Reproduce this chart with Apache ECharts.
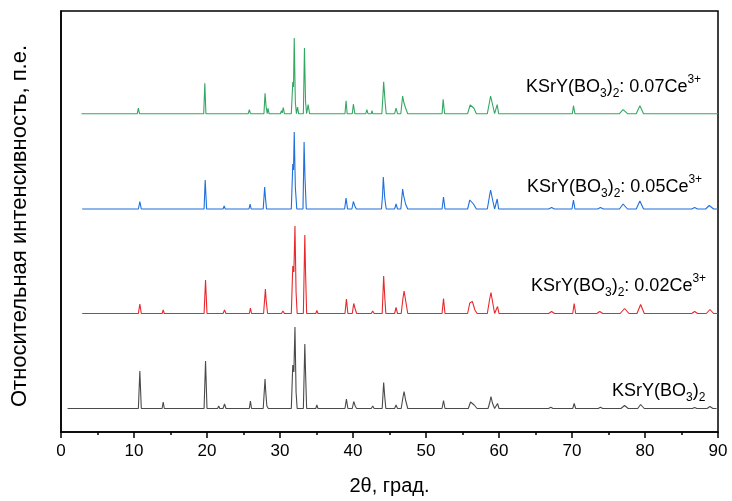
<!DOCTYPE html>
<html>
<head>
<meta charset="utf-8">
<script src="https://cdn.jsdelivr.net/npm/echarts@6/dist/echarts.min.js"></script>
<style>html,body{margin:0;padding:0;background:#fff}#c{width:732px;height:501px}</style>
</head>
<body>
<div id="c"></div>
<script>
// x tick labels
const xTicks = [0, 10, 20, 30, 40, 50, 60, 70, 80, 90];
const xTitle = '2θ, град.';
const yTitle = 'Относительная интенсивность, п.е.';
const seriesNames = ['KSrY(BO3)2', 'KSrY(BO3)2: 0.02Ce3+', 'KSrY(BO3)2: 0.05Ce3+', 'KSrY(BO3)2: 0.07Ce3+'];
const seriesLabels = [
  'KSrY(BO{sub|3}){sub|2}',
  'KSrY(BO{sub|3}){sub|2}: 0.02Ce{sup|3+}',
  'KSrY(BO{sub|3}){sub|2}: 0.05Ce{sup|3+}',
  'KSrY(BO{sub|3}){sub|2}: 0.07Ce{sup|3+}'
];

// [2θ, intensity] (arbitrary units, patterns already vertically offset)
const undoped = [
  [0.9,23.5],[10.6,23.5],[10.8,61],[11.0,23.5],[13.85,23.5],[14.0,30],[14.15,23.5],
  [15.2,23.5],[15.3,25],[15.4,23.5],[19.6,23.5],[19.8,71],[20.0,23.5],
  [21.45,23.5],[21.6,26],[21.75,23.5],[22.2,23.5],[22.4,28],[22.6,23.5],
  [25.8,23.5],[25.95,31],[26.1,23.5],[27.7,23.5],[27.95,53],[28.05,40],[28.2,26],[28.4,23.5],
  [30.8,23.5],[31.0,25],[31.2,23.5],[31.55,23.5],[31.75,67],[31.9,60],[32.05,105],[32.2,40],[32.35,23.5],
  [33.2,23.5],[33.4,88],[33.5,60],[33.65,23.5],[34.9,23.5],[35.05,27],[35.2,23.5],
  [38.9,23.5],[39.1,33],[39.3,23.5],[39.9,23.5],[40.1,30.5],[40.3,26],[40.5,23.5],
  [42.5,23.5],[42.7,26],[42.9,23.5],[44.0,23.5],[44.2,49.5],[44.35,35],[44.5,23.5],
  [45.7,23.5],[45.9,27],[46.1,23.5],[46.6,23.5],[46.85,35],[47.0,40.5],[47.2,32],[47.5,23.5],
  [52.2,23.5],[52.4,31.5],[52.6,23.5],[55.8,23.5],[56.1,30],[56.3,31.5],[56.6,27],[57.0,23.5],
  [58.5,23.5],[58.75,30],[58.9,35.5],[59.1,29],[59.4,23.5],[59.65,23.5],[59.8,28.5],[60.0,23.5],
  [66.8,23.5],[67.1,24.8],[67.4,23.5],[70.1,23.5],[70.3,28.5],[70.5,23.5],
  [73.6,23.5],[73.9,24.8],[74.2,23.5],[76.7,23.5],[77.2,26.5],[77.7,23.5],
  [79.0,23.5],[79.4,27.5],[79.9,23.5],[86.5,23.5],[86.8,24.5],[87.1,23.5],
  [88.5,23.5],[88.9,25.5],[89.3,23.5],[89.8,23.5]
];
const ce002 = [
  [2.9,118.5],[10.6,118.5],[10.8,128],[11.0,118.5],[13.85,118.5],[14.0,122],[14.15,118.5],
  [19.6,118.5],[19.8,152],[20.0,118.5],[21.45,118.5],[21.6,120.5],[21.75,118.5],
  [22.2,118.5],[22.4,122],[22.6,118.5],[25.8,118.5],[25.95,124],[26.1,118.5],
  [27.75,118.5],[28.0,143],[28.1,132],[28.3,118.5],[30.2,118.5],[30.4,121],[30.6,118.5],
  [31.55,118.5],[31.75,166],[31.9,160],[32.05,206],[32.2,140],[32.35,118.5],
  [33.2,118.5],[33.4,197],[33.5,160],[33.65,118.5],[34.9,118.5],[35.05,121.5],[35.2,118.5],
  [38.9,118.5],[39.1,133],[39.3,118.5],[39.9,118.5],[40.1,128.5],[40.3,123],[40.5,118.5],
  [42.5,118.5],[42.7,121],[42.9,118.5],[44.0,118.5],[44.2,156],[44.35,135],[44.5,118.5],
  [45.7,118.5],[45.9,124.5],[46.1,118.5],[46.6,118.5],[46.85,134],[47.0,141],[47.2,132],[47.5,118.5],
  [52.2,118.5],[52.4,133.5],[52.6,118.5],[55.7,118.5],[56.0,129],[56.15,127],[56.35,130.5],[56.7,122],[57.0,118.5],
  [58.4,118.5],[58.7,132],[58.9,139.5],[59.1,131],[59.4,118.5],[59.65,118.5],[59.8,125.5],[60.0,118.5],
  [66.8,118.5],[67.2,120.5],[67.6,118.5],[70.1,118.5],[70.3,128.5],[70.5,118.5],
  [73.4,118.5],[73.8,120.5],[74.2,118.5],[76.6,118.5],[77.2,123.5],[77.8,118.5],
  [78.9,118.5],[79.4,127.5],[79.9,118.5],[86.4,118.5],[86.8,120.5],[87.2,118.5],
  [88.4,118.5],[88.9,122.5],[89.4,118.5],[90,118.5]
];
const ce005 = [
  [2.9,223],[10.6,223],[10.8,230.5],[11.0,223],[13.85,223],[14.0,225],[14.15,223],
  [19.6,223],[19.75,252],[19.95,223],[22.2,223],[22.35,226],[22.5,223],
  [25.75,223],[25.9,228],[26.05,223],[27.7,223],[27.9,245],[28.0,235],[28.15,223],
  [28.45,223],[28.55,225],[28.65,223],[30.4,223],[30.5,225],[30.6,223],[30.9,223],[31.0,225],[31.1,223],
  [31.55,223],[31.75,268],[31.85,262],[31.95,300],[32.1,245],[32.3,223],
  [33.15,223],[33.3,290],[33.42,255],[33.6,223],[34.85,223],[35.0,225],[35.15,223],
  [38.85,223],[39.05,234],[39.25,223],[39.85,223],[40.05,230.5],[40.25,226],[40.45,223],
  [42.4,223],[42.55,225],[42.7,223],[43.9,223],[44.05,237],[44.15,255],[44.35,234],[44.55,223],
  [45.7,223],[45.9,228],[46.1,223],[46.55,223],[46.8,243],[46.95,236],[47.2,228],[47.5,223],
  [52.2,223],[52.4,235],[52.6,223],[55.7,223],[56.0,232],[56.2,234],[56.5,228],[56.9,223],
  [58.4,223],[58.7,236],[58.85,242],[59.1,233],[59.4,223],[59.6,223],[59.75,233],[59.95,223],
  [66.8,223],[67.2,224.5],[67.6,223],[70.0,223],[70.2,232],[70.4,223],
  [73.5,223],[73.9,224.5],[74.3,223],[76.5,223],[77.0,228],[77.6,223],
  [78.8,223],[79.3,231],[79.8,223],[86.4,223],[86.8,224.5],[87.2,223],
  [88.3,223],[88.8,226.5],[89.4,223],[90,223]
];
const ce007 = [
  [2.8,318.3],[10.45,318.3],[10.6,323.8],[10.75,318.3],[13.7,318.3],[13.8,320.3],[13.9,318.3],
  [15.8,318.3],[15.9,320.3],[16.0,318.3],[16.7,318.3],[16.8,320.3],[16.9,318.3],
  [19.55,318.3],[19.7,348.8],[19.85,318.3],[21.5,318.3],[21.6,319.8],[21.7,318.3],
  [22.3,318.3],[22.4,320.3],[22.5,318.3],[25.65,318.3],[25.8,322.3],[25.95,318.3],
  [27.8,318.3],[27.95,338.8],[28.1,325],[28.25,318.3],[28.35,323.8],[28.5,318.3],
  [30.05,318.3],[30.2,321.3],[30.3,319],[30.45,324.3],[30.6,318.3],
  [31.55,318.3],[31.75,350],[31.85,345],[31.95,394],[32.1,330],[32.25,318.3],[32.4,324.8],[32.55,318.3],
  [33.2,318.3],[33.35,384],[33.5,330],[33.65,318.3],[33.85,327.3],[34.05,318.3],
  [34.9,318.3],[35.0,320.3],[35.1,318.3],[38.9,318.3],[39.05,331.3],[39.2,318.3],
  [39.9,318.3],[40.05,327.8],[40.25,318.3],[41.75,318.3],[41.9,322.3],[42.05,318.3],
  [42.5,318.3],[42.6,321.3],[42.7,318.3],[43.95,318.3],[44.1,336],[44.2,350.3],[44.4,330],[44.55,318.3],
  [45.7,318.3],[45.9,323.8],[46.1,318.3],[46.55,318.3],[46.8,336],[46.95,330],[47.2,324],[47.5,318.3],
  [52.2,318.3],[52.35,332.6],[52.55,318.3],[55.7,318.3],[56.05,327],[56.25,329],[56.55,324],[56.9,318.3],
  [58.4,318.3],[58.7,330],[58.85,336],[59.1,328],[59.4,318.3],[59.6,318.3],[59.75,327.3],[59.95,318.3],
  [65.3,318.3],[65.5,319.8],[65.7,318.3],[70.05,318.3],[70.2,326.3],[70.4,318.3],
  [76.5,318.3],[77.0,322.3],[77.6,318.3],[78.8,318.3],[79.3,326.3],[79.8,318.3],[90,318.3]
];

const colors = ['#4a4a4a', '#e8282c', '#1f6fdc', '#33a862'];
const font = "'Liberation Sans', Arial, sans-serif";
const rich = {
  sub: { fontSize: 12, fontFamily: font, color: '#000', verticalAlign: 'bottom', lineHeight: 13 },
  sup: { fontSize: 12, fontFamily: font, color: '#000', verticalAlign: 'top', lineHeight: 13 }
};
const labelPos = [[612, 391], [531, 286], [527, 187], [526, 87]];

const chart = echarts.init(document.getElementById('c'), null, { renderer: 'canvas' });
const datasets = [undoped, ce002, ce005, ce007];
chart.setOption({
  animation: false,
  backgroundColor: '#fff',
  grid: { left: 61, right: 14, top: 11, bottom: 69, show: true, borderColor: '#000', borderWidth: 1.5 },
  xAxis: {
    type: 'value', min: 0, max: 90, interval: 10,
    name: xTitle, nameLocation: 'middle', nameGap: 44,
    nameTextStyle: { fontSize: 20, fontFamily: font, color: '#000' },
    axisLine: { show: true, onZero: false, lineStyle: { color: '#000', width: 1.5 } },
    axisTick: { show: true, inside: false, length: 6, lineStyle: { color: '#000', width: 1.5 } },
    minorTick: { show: true, splitNumber: 2, length: 3, lineStyle: { color: '#000', width: 1.5 } },
    splitLine: { show: false },
    axisLabel: { fontSize: 17, fontFamily: font, color: '#000', margin: 11,
      formatter: v => xTicks.includes(v) ? String(v) : '' }
  },
  yAxis: {
    type: 'value', min: 0, max: 421,
    axisLine: { show: true, lineStyle: { color: '#000', width: 1.5 } },
    axisTick: { show: false }, axisLabel: { show: false }, splitLine: { show: false }
  },
  graphic: [
    { type: 'text', x: 20, y: 226, rotation: Math.PI / 2,
      style: { text: yTitle, fontSize: 22, fontFamily: font, fill: '#000', align: 'center', verticalAlign: 'middle' } }
  ].concat(seriesLabels.map((t, i) => ({
    type: 'text', x: labelPos[i][0], y: labelPos[i][1],
    style: { text: t, rich: rich, fontSize: 18, fontFamily: font, fill: '#000', lineHeight: 26,
      align: 'left', verticalAlign: 'middle' }
  }))),
  series: datasets.map((d, i) => ({
    name: seriesNames[i], type: 'line', data: d, showSymbol: false, symbol: 'none',
    lineStyle: { color: colors[i], width: 1.1 }, z: 2
  }))
});
</script>
</body>
</html>
